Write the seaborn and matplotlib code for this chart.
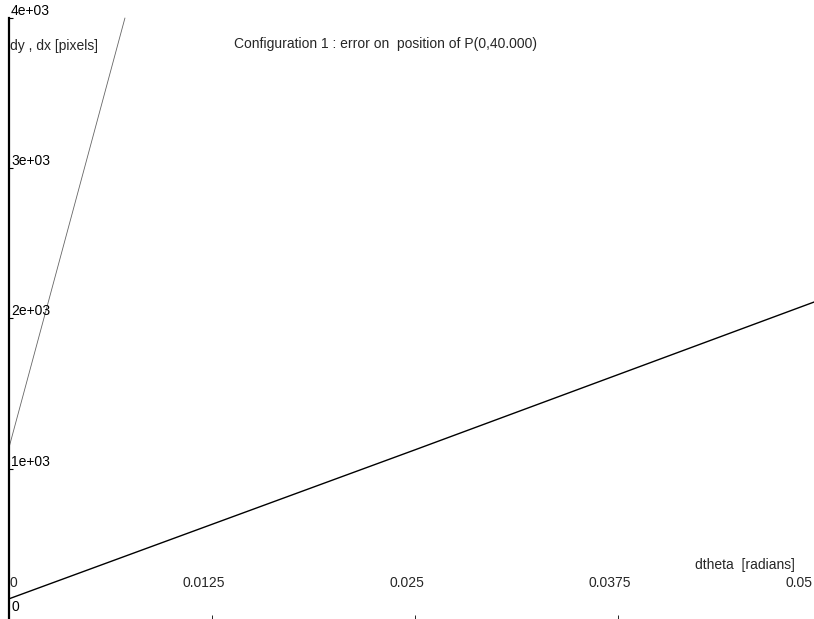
import matplotlib
matplotlib.use("Agg")
import matplotlib.pyplot as plt
import matplotlib.transforms as mtransforms
import numpy as np
import pandas as pd
import seaborn as sns

# Error of the computed position versus the angular error dtheta
dtheta_dx = [0.0, 0.00714]
err_dx = [1140.0, 4000.0]
dtheta_dy = [0.0, 0.025, 0.05]
err_dy = [133.0, 1125.0, 2126.0]

x_ticks = [0.0, 0.0125, 0.025, 0.0375, 0.05]
x_tick_labels = ["0", "0.0125", "0.025", "0.0375", "0.05"]
y_ticks = [0, 1000, 2000, 3000, 4000]
y_tick_labels = ["0", "1e+03", "2e+03", "3e+03", "4e+03"]

title = "Configuration 1 : error on  position of P(0,40.000)"
y_label = "dy , dx [pixels]"
x_label = "dtheta  [radians]"

sns.set_theme(style="white")
plt.rcParams["font.family"] = ["Liberation Sans", "DejaVu Sans"]

W, H = 814, 619
fig = plt.figure(figsize=(W / 100, H / 100), dpi=100)
ax = fig.add_axes([0, 0, 1, 1])

# pixel <-> data scale
px_x = 0.05 / 812.0
px_y = 1000.0 / 150.3
ax.set_xlim(-9 * px_x, 0.05 - 7 * px_x)
ax.set_ylim(-0.2 * px_y, 4000 + 18 * px_y)

df_dx = pd.DataFrame({"dtheta": dtheta_dx, "err": err_dx})
df_dy = pd.DataFrame({"dtheta": dtheta_dy, "err": err_dy})
sns.lineplot(data=df_dx, x="dtheta", y="err", ax=ax, color="#666666",
             linewidth=0.6, estimator=None, sort=False)
sns.lineplot(data=df_dy, x="dtheta", y="err", ax=ax, color="black",
             linewidth=1.0, estimator=None, sort=False)

# axis: a single vertical spine at dtheta = 0
for s in ["top", "right", "bottom"]:
    ax.spines[s].set_visible(False)
ax.spines["left"].set_position(("data", 0.0))
ax.spines["left"].set_bounds(0, 4000)
ax.spines["left"].set_linewidth(1.6)
ax.spines["left"].set_color("black")

ax.set_yticks(y_ticks[1:])
ax.set_xticks(x_ticks[1:4])
ax.tick_params(axis="y", direction="in", length=3, width=0.8, color="black",
               labelleft=False, left=True)
ax.tick_params(axis="x", direction="in", length=3, width=0.6, color="black",
               labelbottom=False, bottom=True)
ax.set_xlabel("")
ax.set_ylabel("")
ax.grid(False)

fs = 10.0
# y tick labels sit to the right of the spine, resting on their ticks
for v, lab in zip(y_ticks[1:], y_tick_labels[1:]):
    ax.annotate(lab, xy=(0.0, v), xytext=(2, 0), textcoords="offset pixels",
                ha="left", va="bottom", fontsize=fs, color="black")
ax.annotate(y_tick_labels[0], xy=(0.0, 0.0), xytext=(2, 5), textcoords="offset pixels",
            ha="left", va="bottom", fontsize=fs, color="black")

# x tick labels drawn inside the plot area, above the baseline
row = mtransforms.blended_transform_factory(ax.transData, fig.transFigure)
y_row = 1 - 583 / H
for i, (v, lab) in enumerate(zip(x_ticks, x_tick_labels)):
    if i == 0:
        ax.text(v, y_row, lab, transform=row, ha="left", va="center", fontsize=fs)
    elif i == len(x_ticks) - 1:
        ax.text(0.05 - 9 * px_x, y_row, lab, transform=row, ha="right", va="center", fontsize=fs)
    else:
        ax.text(v - 8 * px_x, y_row, lab, transform=row, ha="center", va="center", fontsize=fs)

fig.text(10 / W, 1 - 46 / H, y_label, ha="left", va="center", fontsize=fs)
fig.text(795 / W, 1 - 565 / H, x_label, ha="right", va="center", fontsize=fs)
fig.text(386 / W, 1 - 44 / H, title, ha="center", va="center", fontsize=fs)

fig.savefig("out.png", dpi=100)
